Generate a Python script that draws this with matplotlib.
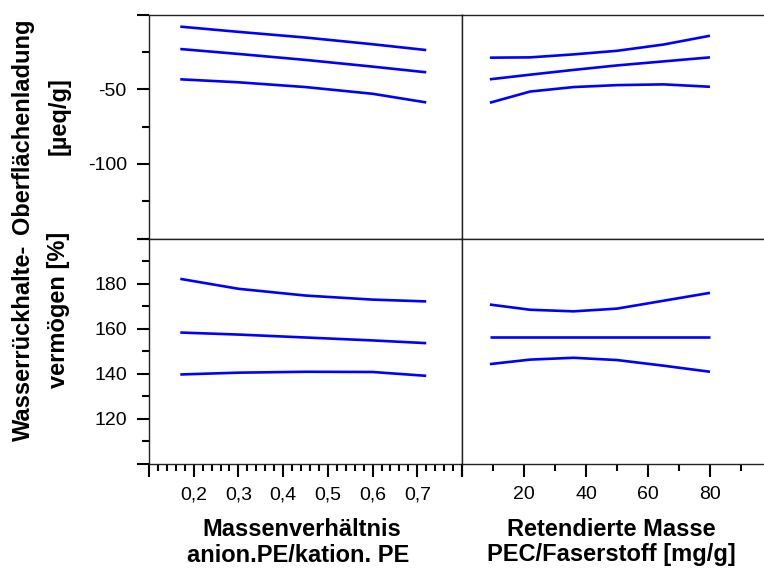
import matplotlib
matplotlib.use("Agg")
import matplotlib.pyplot as plt
from matplotlib.ticker import MultipleLocator

plt.rcParams['font.family'] = ['Liberation Sans', 'DejaVu Sans']

# Oberflächenladung [µeq/g] gegen Massenverhältnis
x_mv = [0.17, 0.30, 0.45, 0.60, 0.72]
ol_mv_oben = [-8.0, -11.5, -15.3, -19.8, -23.7]
ol_mv_mitte = [-23.0, -26.3, -30.3, -34.8, -38.6]
ol_mv_unten = [-43.3, -45.3, -48.5, -53.0, -58.8]

# Oberflächenladung gegen retendierte Masse
x_rm = [9, 22, 36, 50, 65, 80]
ol_rm_oben = [-28.8, -28.6, -26.6, -24.2, -20.0, -14.1]
ol_rm_mitte = [-43.3, -40.2, -37.0, -34.0, -31.3, -28.6]
ol_rm_unten = [-59.0, -51.5, -48.5, -47.2, -46.7, -48.3]

# Wasserrückhaltevermögen [%] gegen Massenverhältnis
wrv_mv_oben = [182.1, 177.7, 174.7, 172.9, 172.1]
wrv_mv_mitte = [158.3, 157.4, 156.1, 154.8, 153.6]
wrv_mv_unten = [139.7, 140.5, 140.9, 140.8, 139.1]

# Wasserrückhaltevermögen gegen retendierte Masse
wrv_rm_oben = [170.7, 168.4, 167.7, 168.9, 172.4, 175.9]
wrv_rm_mitte = [156.2, 156.2, 156.2, 156.2, 156.2, 156.2]
wrv_rm_unten = [144.3, 146.3, 147.1, 146.1, 143.6, 140.9]

mv_ticks = [0.1, 0.2, 0.3, 0.4, 0.5, 0.6, 0.7, 0.8]
mv_labels = ['', '0,2', '0,3', '0,4', '0,5', '0,6', '0,7', '']
rm_ticks = [0, 20, 40, 60, 80, 100]
rm_labels = ['', '20', '40', '60', '80', '']
ol_ticks = [-150, -100, -50, 0]
ol_labels = ['', '-100', '-50', '']
wrv_ticks = [100, 120, 140, 160, 180, 200]
wrv_labels = ['', '120', '140', '160', '180', '']

W, H = 764, 570
fig = plt.figure(figsize=(W / 100, H / 100), dpi=100)

def achse(x0, y0, x1, y1):
    return fig.add_axes([x0 / W, 1 - y1 / H, (x1 - x0) / W, (y1 - y0) / H])

ax_ol_mv = achse(149, 14.7, 462, 238.5)
ax_ol_rm = achse(462, 14.7, 772, 238.5)
ax_wrv_mv = achse(149, 238.5, 462, 464)
ax_wrv_rm = achse(462, 238.5, 772, 464)

blau = '#0000ff'
for ax, x, reihen in [(ax_ol_mv, x_mv, [ol_mv_oben, ol_mv_mitte, ol_mv_unten]),
                      (ax_ol_rm, x_rm, [ol_rm_oben, ol_rm_mitte, ol_rm_unten]),
                      (ax_wrv_mv, x_mv, [wrv_mv_oben, wrv_mv_mitte, wrv_mv_unten]),
                      (ax_wrv_rm, x_rm, [wrv_rm_oben, wrv_rm_mitte, wrv_rm_unten])]:
    for y in reihen:
        ax.plot(x, y, color=blau, lw=1.9, solid_capstyle='butt')
    for s in ax.spines.values():
        s.set_color('#222222')
        s.set_linewidth(1.0)
    ax.tick_params(which='both', direction='out', width=1.5, labelsize=14,
                   colors='black')
    ax.tick_params(which='major', length=9, pad=7)
    ax.tick_params(which='minor', length=5)

for ax in (ax_ol_mv, ax_wrv_mv):
    ax.set_xlim(0.1, 0.8)
for ax in (ax_ol_rm, ax_wrv_rm):
    ax.set_xlim(0, 100)
for ax in (ax_ol_mv, ax_ol_rm):
    ax.set_ylim(-150, 0)
for ax in (ax_wrv_mv, ax_wrv_rm):
    ax.set_ylim(100, 200)

# obere Reihe ohne x-Ticks, rechte Spalte ohne y-Ticks
for ax in (ax_ol_mv, ax_ol_rm):
    ax.set_xticks([])
for ax in (ax_ol_rm, ax_wrv_rm):
    ax.set_yticks([])

ax_ol_mv.set_yticks(ol_ticks)
ax_ol_mv.set_yticklabels(ol_labels)
ax_ol_mv.yaxis.set_minor_locator(MultipleLocator(25))

ax_wrv_mv.set_yticks(wrv_ticks)
ax_wrv_mv.set_yticklabels(wrv_labels)
ax_wrv_mv.yaxis.set_minor_locator(MultipleLocator(10))

ax_wrv_mv.set_xticks(mv_ticks)
ax_wrv_mv.set_xticklabels(mv_labels)
ax_wrv_mv.xaxis.set_minor_locator(MultipleLocator(0.02))

ax_wrv_rm.set_xticks(rm_ticks)
ax_wrv_rm.set_xticklabels(rm_labels)
ax_wrv_rm.xaxis.set_minor_locator(MultipleLocator(10))

# Achsentitel
txt = dict(fontsize=17, fontweight='bold', ha='center', va='center')
fig.text(302 / W, 1 - 530 / H, 'Massenverhältnis', **txt)
fig.text(298 / W, 1 - 555 / H, 'anion.PE/kation. PE', **txt)
fig.text(611 / W, 1 - 530 / H, 'Retendierte Masse', **txt)
fig.text(611 / W, 1 - 555 / H, 'PEC/Faserstoff [mg/g]', **txt)
fig.text(23 / W, 1 - 126 / H, 'Oberflächenladung', rotation=90, **txt)
fig.text(59 / W, 1 - 116 / H, '[µeq/g]', rotation=90, **txt)
fig.text(23 / W, 1 - 343 / H, 'Wasserrückhalte-', rotation=90, **txt)
fig.text(59 / W, 1 - 310 / H, 'vermögen [%]', rotation=90, **txt)

fig.savefig('out.png', dpi=100)
